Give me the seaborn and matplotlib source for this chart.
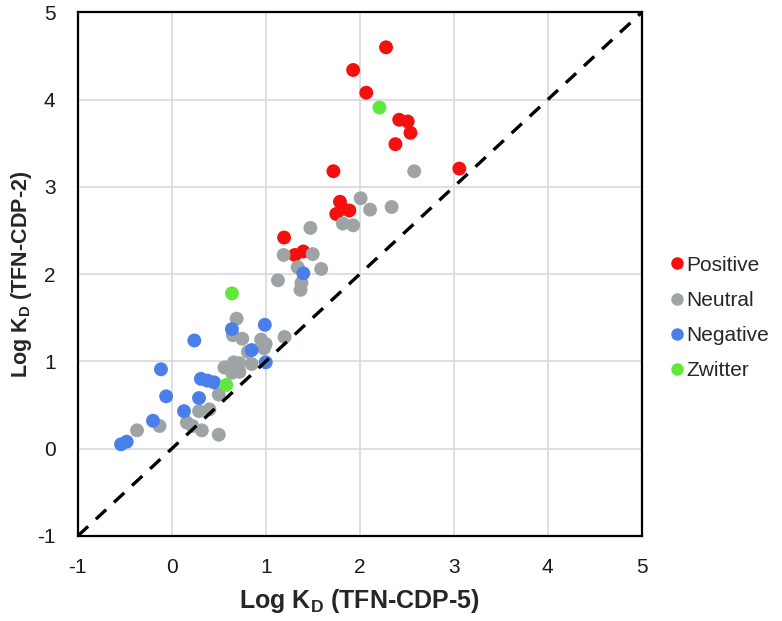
import matplotlib
matplotlib.use("Agg")
import matplotlib.pyplot as plt
import seaborn as sns
import pandas as pd

# ---- data (Log KD values) ----
positive_x = [2.28, 1.93, 2.07, 2.42, 2.51, 2.54, 2.38, 1.72, 3.06, 1.79, 1.75, 1.89, 1.82, 1.195, 1.31, 1.40]
positive_y = [4.60, 4.34, 4.08, 3.77, 3.75, 3.62, 3.49, 3.18, 3.21, 2.83, 2.69, 2.73, 2.75, 2.42, 2.22, 2.26]

neutral_x = [2.58, 2.01, 2.11, 2.34, 1.82, 1.93, 1.475, 1.19, 1.50, 1.34, 1.59, 1.13, 1.38, 1.37,
             0.69, 0.65, 0.75, 0.95, 1.20, 1.00, 0.98, 0.81, 0.85, 0.60, 0.66, 0.72, 0.64, 0.72,
             0.56, 0.68, 0.50, 0.29, 0.40, 0.16, 0.22, 0.32, 0.50, -0.13, -0.37]
neutral_y = [3.18, 2.87, 2.74, 2.77, 2.58, 2.56, 2.53, 2.22, 2.23, 2.08, 2.06, 1.93, 1.90, 1.82,
             1.49, 1.30, 1.26, 1.25, 1.28, 1.20, 1.15, 1.11, 0.97, 0.93, 0.99, 0.98, 0.87, 0.88,
             0.93, 0.92, 0.62, 0.43, 0.45, 0.30, 0.26, 0.21, 0.16, 0.26, 0.21]

negative_x = [1.40, 0.64, 0.99, 0.24, 0.85, 1.00, -0.115, 0.31, 0.38, 0.45, -0.06, 0.29, 0.13, -0.20, -0.48, -0.54]
negative_y = [2.01, 1.37, 1.42, 1.24, 1.13, 0.99, 0.91, 0.80, 0.78, 0.76, 0.60, 0.58, 0.43, 0.32, 0.08, 0.05]

zwitter_x = [2.21, 0.64, 0.58]
zwitter_y = [3.91, 1.78, 0.73]

categories = ["Positive", "Neutral", "Negative", "Zwitter"]
colors = ["#F50F0F", "#9EA4A6", "#4A7FEA", "#5EE83A"]
diag = [-1, 5]
ticks = [-1, 0, 1, 2, 3, 4, 5]

df = pd.concat([
    pd.DataFrame({"x": positive_x, "y": positive_y, "Charge": "Positive"}),
    pd.DataFrame({"x": neutral_x, "y": neutral_y, "Charge": "Neutral"}),
    pd.DataFrame({"x": negative_x, "y": negative_y, "Charge": "Negative"}),
    pd.DataFrame({"x": zwitter_x, "y": zwitter_y, "Charge": "Zwitter"}),
], ignore_index=True)

sns.set_style("white")
plt.rcParams["font.family"] = ["Liberation Sans", "DejaVu Sans"]
plt.rcParams["axes.unicode_minus"] = False

fig = plt.figure(figsize=(7.82, 6.21), dpi=100)
ax = fig.add_axes([0.0995, 0.137, 0.721, 0.843])

ax.grid(True, color="#D5DADD", linewidth=1.2, zorder=0)
ax.set_axisbelow(True)

ax.plot(diag, diag, linestyle=(0, (4.2, 3.2)), color="black", linewidth=2.4, zorder=3)

sns.scatterplot(data=df, x="x", y="y", hue="Charge", hue_order=categories,
                palette=colors, s=100, edgecolor="none", linewidth=0, alpha=1.0,
                ax=ax, zorder=2, legend=True)

ax.set_xlim(-1, 5)
ax.set_ylim(-1, 5)
ax.set_xticks(ticks)
ax.set_yticks(ticks)
ax.tick_params(axis="both", which="both", length=0, labelsize=15, pad=16, colors="#1a1a1a")

for sp in ax.spines.values():
    sp.set_color("black")
    sp.set_linewidth(1.6)

ax.set_xlabel("Log K$_\\mathregular{D}$ (TFN-CDP-5)", fontsize=18, fontweight="bold", labelpad=7)
ax.set_ylabel("Log K$_\\mathregular{D}$ (TFN-CDP-2)", fontsize=15.5, fontweight="bold", labelpad=2)

handles, labels = ax.get_legend_handles_labels()
ax.legend(handles, labels, loc="center left", bbox_to_anchor=(0.84, 0.488),
          bbox_transform=fig.transFigure, frameon=False, fontsize=15,
          handletextpad=-0.1, labelspacing=0.78, markerscale=0.9, borderaxespad=0,
          handlelength=1.1)

fig.savefig("out.png", dpi=100)
